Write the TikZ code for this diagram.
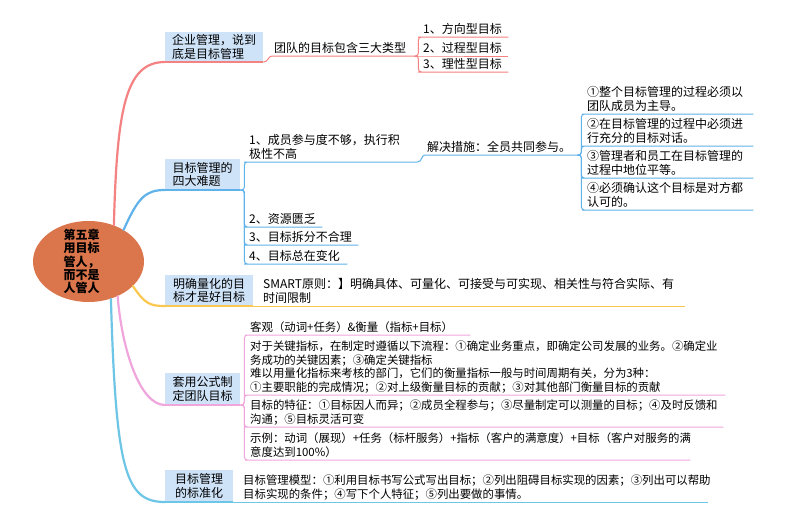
\documentclass[tikz,border=0pt]{standalone}
\usepackage{fontspec}
\setmainfont{Noto Sans CJK SC}
\usetikzlibrary{shapes.geometric}
\definecolor{orangec}{RGB}{219,117,76}
\definecolor{boxc}{RGB}{207,227,248}
\definecolor{redl}{RGB}{245,130,130}
\definecolor{bluel}{RGB}{96,178,235}
\definecolor{yell}{RGB}{250,200,80}
\definecolor{pinkl}{RGB}{240,165,220}
\definecolor{cyanl}{RGB}{110,198,230}
\newcommand\mybrk[3]{\draw[#1,rounded corners=3pt] (#2) -- ++(4,0) |- (#3.south west) -- (#3.south east);}
\begin{document}
\begin{tikzpicture}[x=1pt,y=-1pt,
  mainl/.style={line width=2.2pt, line cap=round},
  underl/.style={line width=1.5pt},
  subl/.style={line width=1pt},
  box/.style={fill=boxc, inner sep=0pt, anchor=south west, align=left, font=\fontsize{12pt}{13.5pt}\selectfont},
  leaf/.style={anchor=south west, inner xsep=2pt, inner ysep=0.5pt, align=left, font=\fontsize{12pt}{13.5pt}\selectfont, execute at end node={\rule[-3pt]{0pt}{3pt}}},
  leafs/.style={leaf, font=\fontsize{11.4pt}{13.5pt}\selectfont}]
\useasboundingbox (0,0) rectangle (800,522);
\fill[white] (0,0) rectangle (800,522);

% central topic
\node[ellipse, fill=orangec, minimum width=111pt, minimum height=81pt, inner sep=0pt] (c) at (88.5,261.5) {};
\node[font=\bfseries\fontsize{12pt}{13.3pt}\selectfont, align=left, inner sep=0pt] (ct) at (81.5,261.5) {第五章\\用目标\\管人，\\而不是\\人管人};

% main topics
\node[box, minimum width=98pt, minimum height=30pt] (b1) at (165,62) {企业管理，说到\\底是目标管理};
\node[box, minimum width=75pt, minimum height=31pt] (b2) at (165,190) {目标管理的\\四大难题};
\node[box, minimum width=88pt, minimum height=31pt] (b3) at (165,306) {明确量化的目\\标才是好目标};
\node[box, minimum width=75pt, minimum height=32pt] (b4) at (165,405) {套用公式制\\定团队目标};
\node[box, minimum width=68pt, minimum height=32pt] (b5) at (165,502) {目标管理\\的标准化};

% red group
\node[leaf, text width=138pt] (r1) at (272,56) {团队的目标包含三大类型};
\node[leaf, text width=83pt] (a1) at (421,37) {1、方向型目标};
\node[leaf, text width=83pt] (a2) at (421,56) {2、过程型目标};
\node[leaf, text width=83pt] (a3) at (421,72) {3、理性型目标};

% blue group
\node[leaf, text width=166pt] (k1) at (247,162) {1、成员参与度不够，执行积\\极性不高};
\node[leaf, text width=148pt] (s1) at (425,155) {解决措施：全员共同参与。};
\node[leaf, text width=71pt] (k2) at (247,227) {2、资源匮乏};
\node[leaf, text width=107pt] (k3) at (247,245) {3、目标拆分不合理};
\node[leaf, text width=96pt] (k4) at (247,264) {4、目标总在变化};
\node[leaf, text width=164pt] (m1) at (585,114) {①整个目标管理的过程必须以\\团队成员为主导。};
\node[leaf, text width=164pt] (m2) at (585,146) {②在目标管理的过程中必须进\\行充分的目标对话。};
\node[leaf, text width=164pt] (m3) at (585,178) {③管理者和员工在目标管理的\\过程中地位平等。};
\node[leaf, text width=164pt] (m4) at (585,210) {④必须确认这个目标是对方都\\认可的。};

% yellow group
\node[leaf, text width=420pt] (y1) at (261,306) {SMART原则：】明确具体、可量化、可接受与可实现、相关性与符合实际、有\\时间限制};

% pink group
\node[leafs, text width=218pt] (p1) at (248,335) {客观（动词+任务）\&衡量（指标+目标）};
\node[leafs, text width=473pt] (p2) at (248,395) {对于关键指标，在制定时遵循以下流程：①确定业务重点，即确定公司发展的业务。②确定业\\务成功的关键因素；③确定关键指标\\难以用量化指标来考核的部门，它们的衡量指标一般与时间周期有关，分为3种：\\①主要职能的完成情况；②对上级衡量目标的贡献；③对其他部门衡量目标的贡献};
\node[leafs, text width=471pt] (p3) at (248,427) {目标的特征：①目标因人而异；②成员全程参与；③尽量制定可以测量的目标；④及时反馈和\\沟通；⑤目标灵活可变};
\node[leafs, text width=438pt] (p4) at (248,460) {示例：动词（展现）+任务（标杆服务）+指标（客户的满意度）+目标（客户对服务的满\\意度达到100\%）};

% cyan group
\node[leafs, text width=463pt] (q1) at (241,502) {目标管理模型：①利用目标书写公式写出目标；②列出阻碍目标实现的因素；③列出可以帮助\\目标实现的条件；④写下个人特征；⑤列出要做的事情。};

% main branches
\draw[redl, mainl] (c.55) .. controls (117,110) and (125,62) .. (b1.south west);
\draw[bluel, mainl] (c.42) .. controls (138,198) and (145,190) .. (b2.south west);
\draw[yell, mainl] (c.-29) .. controls (145,304) and (150,306) .. (b3.south west);
\draw[pinkl, mainl] (c.-50) .. controls (122,350) and (140,405) .. (b4.south west);
\draw[cyanl, mainl] (c.-59) .. controls (116,470) and (125,502) .. (b5.south west);

% box underlines
\draw[redl, underl] (b1.south west) -- (b1.south east);
\draw[bluel, underl] (b2.south west) -- (b2.south east);
\draw[yell, underl] (b3.south west) -- (b3.south east);
\draw[pinkl, underl] (b4.south west) -- (b4.south east);
\draw[cyanl, underl] (b5.south west) -- (b5.south east);

% red sub-branches
\draw[redl, subl] (b1.south east) .. controls +(5,0) and +(-4,0) .. (r1.south west) -- (r1.south east);
\mybrk{redl, subl}{r1.south east}{a1}
\draw[redl, subl] (r1.south east) -- (a2.south west) -- (a2.south east);
\mybrk{redl, subl}{r1.south east}{a3}

% blue sub-branches
\mybrk{bluel, subl}{b2.south east}{k1}
\mybrk{bluel, subl}{b2.south east}{k2}
\mybrk{bluel, subl}{b2.south east}{k3}
\mybrk{bluel, subl}{b2.south east}{k4}
\draw[bluel, subl] (k1.south east) .. controls +(5,0) and +(-4,0) .. (s1.south west) -- (s1.south east);
\mybrk{bluel, subl}{s1.south east}{m1}
\mybrk{bluel, subl}{s1.south east}{m2}
\mybrk{bluel, subl}{s1.south east}{m3}
\mybrk{bluel, subl}{s1.south east}{m4}

% yellow
\draw[yell, subl] (b3.south east) -- (y1.south east);

% pink
\mybrk{pinkl, subl}{b4.south east}{p1}
\mybrk{pinkl, subl}{b4.south east}{p2}
\mybrk{pinkl, subl}{b4.south east}{p3}
\mybrk{pinkl, subl}{b4.south east}{p4}

% cyan
\draw[cyanl, subl] (b5.south east) -- (q1.south east);
\end{tikzpicture}
\end{document}
